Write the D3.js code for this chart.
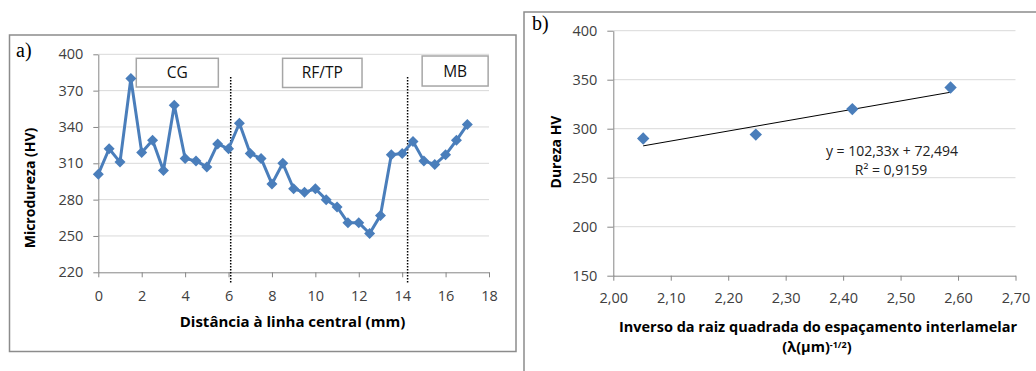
<!DOCTYPE html>
<html>
<head>
<meta charset="utf-8">
<script src="https://cdn.jsdelivr.net/npm/d3@7"></script>
<style>
  html, body { margin: 0; padding: 0; background: #fff; }
  svg { display: block; }
  text { font-family: "Open Sans", Lato, sans-serif; }
</style>
</head>
<body>
<svg id="chart" width="1036" height="371"></svg>
<script>
// ---------- Data: panel a ----------
const distance = [0, 0.5, 1, 1.5, 2, 2.5, 3, 3.5, 4, 4.5, 5, 5.5, 6, 6.5, 7, 7.5, 8, 8.5, 9, 9.5, 10, 10.5, 11, 11.5, 12, 12.5, 13, 13.5, 14, 14.5, 15, 15.5, 16, 16.5, 17];
const microhardness = [301, 322, 311, 380, 319, 329, 304, 358, 314, 312, 307, 326, 322, 343, 318, 314, 293, 310, 289, 286, 289, 280, 274, 261, 261, 252, 267, 317, 318, 328, 312, 309, 317, 329, 342];
const xTicksA = [0, 2, 4, 6, 8, 10, 12, 14, 16, 18];
const yTicksA = [220, 250, 280, 310, 340, 370, 400];
const zoneDividers = [6.1, 14.25];
const zoneLabels = ["CG", "RF/TP", "MB"];

// ---------- Data: panel b ----------
const inverseSpacing = [2.052, 2.248, 2.416, 2.587];
const hardness = [290, 294, 320, 342];
const fitSlope = 102.33;
const fitIntercept = 72.494;
const xTicksB = [2.00, 2.10, 2.20, 2.30, 2.40, 2.50, 2.60, 2.70];
const yTicksB = [150, 200, 250, 300, 350, 400];
const equationLabel = "y = 102,33x + 72,494";
const r2Label = "R² = 0,9159";

// ---------- Styles ----------
const BLUE = "#4a7ebb";
const GRID = "#d9d9d9";
const AXIS = "#868686";
const TICKTXT = "#404040";
const FONT = "'Open Sans', Lato, sans-serif";

const svg = d3.select("#chart");
const diamond = r => `M0,${-r}L${r},0L0,${r}L${-r},0Z`;
const comma = d3.format(".2f");
const fmtComma = v => comma(v).replace(".", ",");

// Panel frames
svg.append("rect").attr("x", 9.5).attr("y", 35).attr("width", 506.5).attr("height", 316.5)
  .attr("fill", "none").attr("stroke", "#8c8c8c").attr("stroke-width", 1.5);
svg.append("path").attr("d", "M524,372V12H1037")
  .attr("fill", "none").attr("stroke", "#8c8c8c").attr("stroke-width", 1.5);

// ---------- Panel a ----------
const xA = d3.scaleLinear().domain([0, 18]).range([98.3, 489]);
const yA = d3.scaleLinear().domain([220, 400]).range([272.3, 54.3]);
const gA = svg.append("g");

gA.append("g").selectAll("line").data(yTicksA.filter(v => v > 220)).join("line")
  .attr("x1", xA(0)).attr("x2", xA(18)).attr("y1", d => yA(d)).attr("y2", d => yA(d))
  .attr("stroke", GRID).attr("stroke-width", 1);

function styleAxis(g) {
  g.select(".domain").attr("stroke", AXIS).attr("stroke-width", 1);
  g.selectAll(".tick line").attr("stroke", AXIS);
  g.selectAll(".tick text").attr("fill", TICKTXT).style("font-size", "14.5px")
    .style("font-family", FONT);
}

gA.append("g").attr("transform", `translate(0,${yA(220)})`)
  .call(d3.axisBottom(xA).tickValues(xTicksA).tickSize(5).tickSizeOuter(0).tickPadding(13))
  .call(styleAxis);
gA.append("g").attr("transform", `translate(${xA(0)},0)`)
  .call(d3.axisLeft(yA).tickValues(yTicksA).tickSize(5).tickSizeOuter(0).tickPadding(10))
  .call(styleAxis);

// zone dividers
gA.append("g").selectAll("line").data(zoneDividers).join("line")
  .attr("x1", d => xA(d)).attr("x2", d => xA(d))
  .attr("y1", 77).attr("y2", 283)
  .attr("stroke", "#000").attr("stroke-width", 1.5).attr("stroke-dasharray", "1.5,1.5");

// zone label boxes (in data units)
const zoneBoxes = [
  { x0: 1.75, x1: 5.53, y0: 396.7, y1: 373.0 },
  { x0: 8.49, x1: 12.15, y0: 396.7, y1: 372.6 },
  { x0: 14.92, x1: 17.96, y0: 398.6, y1: 373.8 }
];
zoneBoxes.forEach((b, i) => {
  gA.append("rect")
    .attr("x", xA(b.x0)).attr("y", yA(b.y0))
    .attr("width", xA(b.x1) - xA(b.x0)).attr("height", yA(b.y1) - yA(b.y0))
    .attr("fill", "#fff").attr("stroke", "#a6a6a6").attr("stroke-width", 1.5);
  gA.append("text")
    .attr("x", (xA(b.x0) + xA(b.x1)) / 2).attr("y", (yA(b.y0) + yA(b.y1)) / 2 + 5.5)
    .attr("text-anchor", "middle").style("font-size", "15.5px").attr("fill", "#111")
    .text(zoneLabels[i]);
});

const ptsA = distance.map((d, i) => [d, microhardness[i]]);
gA.append("path").datum(ptsA)
  .attr("d", d3.line().x(d => xA(d[0])).y(d => yA(d[1])))
  .attr("fill", "none").attr("stroke", BLUE).attr("stroke-width", 3).attr("stroke-linejoin", "round");
gA.append("g").selectAll("path").data(ptsA).join("path")
  .attr("transform", d => `translate(${xA(d[0])},${yA(d[1])})`)
  .attr("d", diamond(5.5)).attr("fill", BLUE);

gA.append("text").attr("x", 16).attr("y", 57)
  .style("font-family", "'Liberation Serif', 'DejaVu Serif', serif").style("font-size", "20px")
  .text("a)");
gA.append("text").attr("transform", "translate(35,188) rotate(-90)")
  .attr("text-anchor", "middle").style("font-size", "14px").style("font-weight", "bold")
  .text("Microdureza (HV)");
gA.append("text").attr("x", 292.5).attr("y", 327)
  .attr("text-anchor", "middle").style("font-size", "15px").style("font-weight", "bold")
  .text("Distância à linha central (mm)");

// ---------- Panel b ----------
const xB = d3.scaleLinear().domain([2.0, 2.7]).range([613.3, 1015.5]);
const yB = d3.scaleLinear().domain([150, 400]).range([275.7, 30.7]);
const gB = svg.append("g");

gB.append("g").selectAll("line").data(yTicksB.filter(v => v > 150)).join("line")
  .attr("x1", xB(2.0)).attr("x2", xB(2.7)).attr("y1", d => yB(d)).attr("y2", d => yB(d))
  .attr("stroke", GRID).attr("stroke-width", 1);

gB.append("g").attr("transform", `translate(0,${yB(150)})`)
  .call(d3.axisBottom(xB).tickValues(xTicksB).tickFormat(fmtComma).tickSize(5).tickSizeOuter(0).tickPadding(12))
  .call(styleAxis);
gB.append("g").attr("transform", `translate(${xB(2.0)},0)`)
  .call(d3.axisLeft(yB).tickValues(yTicksB).tickSize(6).tickSizeOuter(0).tickPadding(10))
  .call(styleAxis);

// trend line
const xFit = d3.extent(inverseSpacing);
gB.append("line")
  .attr("x1", xB(xFit[0])).attr("y1", yB(fitSlope * xFit[0] + fitIntercept))
  .attr("x2", xB(xFit[1])).attr("y2", yB(fitSlope * xFit[1] + fitIntercept))
  .attr("stroke", "#000").attr("stroke-width", 1);

gB.append("g").selectAll("path").data(inverseSpacing.map((d, i) => [d, hardness[i]])).join("path")
  .attr("transform", d => `translate(${xB(d[0])},${yB(d[1])})`)
  .attr("d", diamond(6.2)).attr("fill", BLUE);

gB.append("text").attr("x", 892).attr("y", 156)
  .attr("text-anchor", "middle").style("font-size", "14px").attr("fill", "#222")
  .text(equationLabel);
gB.append("text").attr("x", 891).attr("y", 175)
  .attr("text-anchor", "middle").style("font-size", "14px").attr("fill", "#222")
  .text(r2Label);

gB.append("text").attr("x", 532).attr("y", 30)
  .style("font-family", "'Liberation Serif', 'DejaVu Serif', serif").style("font-size", "20px")
  .text("b)");
gB.append("text").attr("transform", "translate(561,152) rotate(-90)")
  .attr("text-anchor", "middle").style("font-size", "14px").style("font-weight", "bold")
  .text("Dureza HV");
gB.append("text").attr("x", 818).attr("y", 332)
  .attr("text-anchor", "middle").style("font-size", "14.5px").style("font-weight", "bold")
  .text("Inverso da raiz quadrada do espaçamento interlamelar");
const t2 = gB.append("text").attr("x", 817).attr("y", 352)
  .attr("text-anchor", "middle").style("font-size", "14.5px").style("font-weight", "bold");
t2.append("tspan").text("(λ(µm)");
t2.append("tspan").attr("dy", -4).style("font-size", "9px").text("-1/2");
t2.append("tspan").attr("dy", 4).text(")");
</script>
</body>
</html>
